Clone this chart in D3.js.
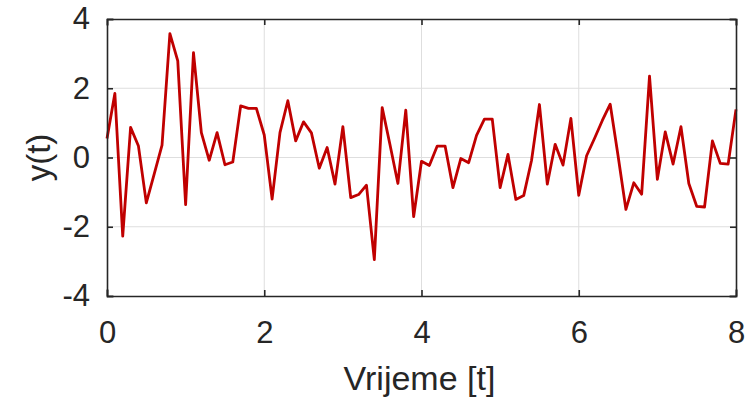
<!DOCTYPE html>
<html>
<head>
<meta charset="utf-8">
<script src="https://cdn.jsdelivr.net/npm/d3@7"></script>
<style>
  html, body { margin: 0; padding: 0; background: #fff; }
  svg { display: block; font-family: "Liberation Sans", Arial, Helvetica, sans-serif; }
</style>
</head>
<body>
<svg id="chart" width="748" height="399"></svg>
<script>
// Data: t = 0:0.1:8
const tValues = d3.range(81).map(i => +(i * 0.1).toFixed(1));
const yValues = [
  0.55, 1.85, -2.27, 0.87, 0.33, -1.31, -0.48, 0.36, 3.58, 2.79,
  -1.36, 3.03, 0.72, -0.08, 0.72, -0.21, -0.13, 1.49, 1.42, 1.42,
  0.65, -1.20, 0.72, 1.64, 0.48, 1.03, 0.71, -0.31, 0.29, -0.77,
  0.89, -1.16, -1.07, -0.80, -2.95, 1.44, 0.36, -0.75, 1.37, -1.71,
  -0.11, -0.23, 0.33, 0.33, -0.87, -0.03, -0.15, 0.64, 1.11, 1.11,
  -0.87, 0.09, -1.21, -1.10, -0.08, 1.53, -0.77, 0.38, -0.22, 1.13,
  -1.09, 0.05, 0.55, 1.07, 1.54, 0.05, -1.50, -0.73, -1.06, 2.35,
  -0.63, 0.74, -0.19, 0.89, -0.75, -1.41, -1.43, 0.48, -0.17, -0.19,
  1.39
];
const xTicks = [0, 2, 4, 6, 8];
const yTicks = [-4, -2, 0, 2, 4];
const xLabel = "Vrijeme [t]";
const yLabel = "y(t)";

const W = 748, H = 399;
const m = { left: 107, right: 12, top: 19, bottom: 103 };
const iw = W - m.left - m.right, ih = H - m.top - m.bottom;
const txtColor = "#262626";

const svg = d3.select("#chart");
const g = svg.append("g").attr("transform", `translate(${m.left},${m.top})`);

const x = d3.scaleLinear().domain([0, 8]).range([0, iw]);
const y = d3.scaleLinear().domain([-4, 4]).range([ih, 0]);

// grid
g.append("g").selectAll("line.gx").data(xTicks.slice(1, -1)).join("line")
  .attr("x1", d => x(d)).attr("x2", d => x(d)).attr("y1", 0).attr("y2", ih)
  .attr("stroke", "#dedede").attr("stroke-width", 1);
g.append("g").selectAll("line.gy").data(yTicks.slice(1, -1)).join("line")
  .attr("y1", d => y(d)).attr("y2", d => y(d)).attr("x1", 0).attr("x2", iw)
  .attr("stroke", "#dedede").attr("stroke-width", 1);

// line
const line = d3.line().x((d, i) => x(tValues[i])).y(d => y(d));
g.append("path").datum(yValues)
  .attr("d", line).attr("fill", "none")
  .attr("stroke", "#c00000").attr("stroke-width", 2.8)
  .attr("stroke-linejoin", "round");

// axes
const tickLen = 6;
const xAxisB = d3.axisBottom(x).tickValues(xTicks).tickSize(-tickLen).tickPadding(25).tickFormat(d3.format("d"));
const xAxisT = d3.axisTop(x).tickValues(xTicks).tickSize(-tickLen).tickFormat("");
const yAxisL = d3.axisLeft(y).tickValues(yTicks).tickSize(-tickLen).tickPadding(17).tickFormat(d => d < 0 ? "-" + Math.abs(d) : d);
const yAxisR = d3.axisRight(y).tickValues(yTicks).tickSize(-tickLen).tickFormat("");

function styleAxis(sel) {
  sel.select(".domain").attr("stroke", txtColor).attr("stroke-width", 1.6);
  sel.selectAll(".tick line").attr("stroke", txtColor).attr("stroke-width", 1.6);
  sel.selectAll(".tick text").attr("fill", txtColor).style("font-size", "31px");
}
g.append("g").attr("transform", `translate(0,${ih})`).call(xAxisB).call(styleAxis);
g.append("g").call(xAxisT).call(styleAxis);
g.append("g").call(yAxisL).call(styleAxis);
g.append("g").attr("transform", `translate(${iw},0)`).call(yAxisR).call(styleAxis);
svg.selectAll(".domain").attr("stroke-linecap", "square");

// labels
svg.append("text").attr("x", m.left + iw / 2 - 2).attr("y", 390)
  .attr("text-anchor", "middle").attr("fill", txtColor)
  .style("font-size", "34px").text(xLabel);
svg.append("text").attr("transform", `translate(50,${m.top + ih / 2}) rotate(-90)`)
  .attr("text-anchor", "middle").attr("fill", txtColor)
  .style("font-size", "33px").text(yLabel);
</script>
</body>
</html>
